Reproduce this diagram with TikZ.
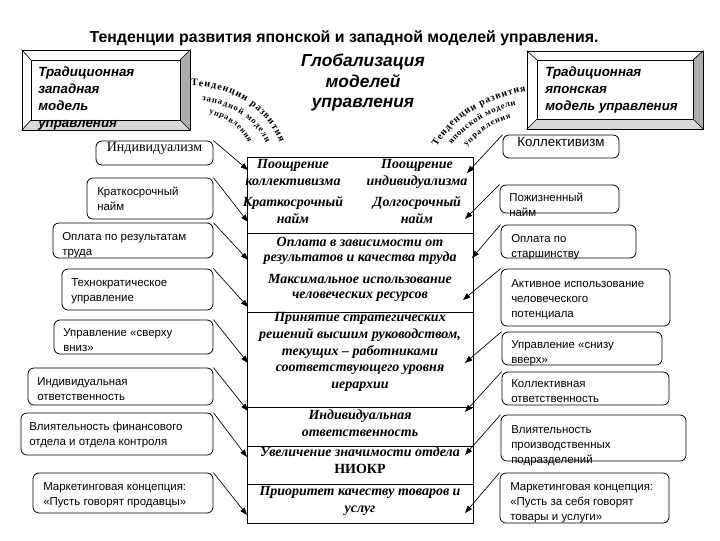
\documentclass[tikz,border=0pt]{standalone}
\usepackage{fontspec}
\setmainfont{Liberation Serif}
\setsansfont{Liberation Sans}
\usetikzlibrary{arrows.meta,decorations.text,fit}
\newcommand\mySans{\sffamily\fontsize{8.6}{11.25}\selectfont}
\newcommand\myCol{\rmfamily\bfseries\itshape\fontsize{10.5}{12.5}\selectfont}
\newcommand\myColS{\rmfamily\bfseries\itshape\fontsize{10.5}{10.8}\selectfont}
\newcommand\myBev{\sffamily\bfseries\itshape\fontsize{10}{12.75}\selectfont}
\newcommand\myGlob{\sffamily\bfseries\itshape\fontsize{13}{15.4}\selectfont}
\newcommand\myTitle{\sffamily\bfseries\fontsize{11.9}{13}\selectfont}
\newcommand\myWAa{\rmfamily\bfseries\fontsize{7.5}{7.5}\selectfont}
\newcommand\myWAb{\rmfamily\bfseries\fontsize{6.5}{6.5}\selectfont}
\newcommand\myWAc{\rmfamily\bfseries\fontsize{6.2}{6.2}\selectfont}
\begin{document}
\begin{tikzpicture}[x=0.75pt,y=-0.75pt,
  rbox/.style={draw, rounded corners=4.5pt, inner sep=0pt, line width=0.6pt, fill=white},
  cbox/.style={draw, inner sep=0pt, line width=0.75pt},
  btxt/.style={anchor=north west, inner sep=0pt, align=left, font=\mySans},
  ctxt/.style={anchor=north, inner sep=0pt, align=center, font=\myCol},
  bevtxt/.style={anchor=north west, inner sep=0pt, align=left, font=\myBev},
  arr/.style={-{Triangle[length=5.5pt,width=4pt]}, line width=0.5pt},
  wa/.style={decorate, decoration={text along path, text align=fit to path, text={#1}}}
]
\useasboundingbox (0,0) rectangle (720,540);
\fill[white] (0,0) rectangle (720,540);

% title
\node[font=\myTitle, inner sep=0pt] (title) at (344,38) {Тенденции развития японской и западной моделей управления.};

% left bevel box
\fill[gray!65] (190,50) -- (180,60) -- (180,120) -- (190,130) -- cycle;
\fill[gray!30] (22,130) -- (31,120) -- (180,120) -- (190,130) -- cycle;
\node[draw, line width=0.6pt, inner sep=0pt, fit={(22,50) (190,130)}] (wb) {};
\draw[line width=0.5pt] (31,60) rectangle (180,120);
\draw[line width=0.5pt] (wb.north west) -- (31,60) (wb.north east) -- (180,60)
  (wb.south west) -- (31,120) (wb.south east) -- (180,120);
\node[bevtxt] (wbt) at (38,64.6) {\strut Традиционная\\западная\\модель\\управления};

% right bevel box
\fill[gray!65] (703,51) -- (693,60) -- (693,119) -- (703,129) -- cycle;
\fill[gray!30] (527,129) -- (537,119) -- (693,119) -- (703,129) -- cycle;
\node[draw, line width=0.6pt, inner sep=0pt, fit={(527,51) (703,129)}] (jb) {};
\draw[line width=0.5pt] (537,60) rectangle (693,119);
\draw[line width=0.5pt] (jb.north west) -- (537,60) (jb.north east) -- (693,60)
  (jb.south west) -- (537,119) (jb.south east) -- (693,119);
\node[bevtxt] (jbt) at (545,64.6) {\strut Традиционная\\японская\\модель управления};

% globalisation
\node[anchor=north, inner sep=0pt, align=center, font=\myGlob] (glob) at (363,52) {\strut Глобализация\\моделей\\управления};

% word-art arcs
\path[wa={|\myWAa|Тенденции развития}] (191,86) .. controls (232,86) and (265,108) .. (280,142);
\path[wa={|\myWAb|западной модели}] (202,101) .. controls (230,104) and (255,119) .. (266,143);
\path[wa={|\myWAc|управления}] (209,114) .. controls (228,118) and (242,129) .. (248,143);
\path[wa={|\myWAa|Тенденции развития}] (437,147) .. controls (452,118) and (488,98) .. (526,91);
\path[wa={|\myWAb|японской модели}] (452,145) .. controls (466,126) and (490,111) .. (516,105);
\path[wa={|\myWAc|управления}] (467,147) .. controls (478,133) and (494,123) .. (511,118);

% central column
\node[cbox, fit={(247,157) (473,233)}] (c1) {};
\node[cbox, fit={(247,233) (473,312)}] (c2) {};
\node[cbox, fit={(247,312) (473,407)}] (c3) {};
\node[cbox, fit={(247,407) (473,446)}] (c4) {};
\node[cbox, fit={(247,446) (473,484)}] (c5) {};
\node[cbox, fit={(247,484) (473,523)}] (c6) {};

\node[ctxt] (c1a) at (293,156.8) {\strut Поощрение\\коллективизма};
\node[ctxt] (c1b) at (417,156.8) {\strut Поощрение\\индивидуализма};
\node[ctxt] (c1c) at (293,194.8) {\strut Краткосрочный\\найм};
\node[ctxt] (c1d) at (417,194.8) {\strut Долгосрочный\\найм};
\node[ctxt, font=\myColS] (c2a) at (360,236.4) {\strut Оплата в зависимости от\\результатов и качества труда};
\node[ctxt, font=\myColS] (c2b) at (360,273.4) {\strut Максимальное использование\\человеческих ресурсов};
\node[ctxt] (c3t) at (360,309.8) {\strut Принятие стратегических\\решений высшим руководством,\\текущих – работниками\\соответствующего уровня\\иерархии};
\node[ctxt] (c4t) at (360,407.8) {\strut Индивидуальная\\ответственность};
\node[ctxt] (c5t) at (360,444.8) {\strut Увеличение значимости отдела\\\upshape НИОКР};
\node[ctxt] (c6t) at (360,483.8) {\strut Приоритет качеству товаров и\\услуг};

% left boxes
\node[rbox, fit={(96,141) (213,165)}, font=\rmfamily\fontsize{10.5}{12}\selectfont] (l1) {Индивидуализм};
\node[rbox, fit={(87,178) (213,219)}] (l2) {};
\node[rbox, fit={(53,223) (213,258)}] (l3) {};
\node[rbox, fit={(62,269) (213,310)}] (l4) {};
\node[rbox, fit={(54,320) (213,354)}] (l5) {};
\node[rbox, fit={(28,368) (213,405)}] (l6) {};
\node[rbox, fit={(21,413) (213,455)}] (l7) {};
\node[rbox, fit={(33,473) (213,513)}] (l8) {};
\node[btxt] (l2t) at (97,184.8) {\strut Краткосрочный\\найм};
\node[btxt] (l3t) at (62,229.8) {\strut Оплата по результатам\\труда};
\node[btxt] (l4t) at (71,275.8) {\strut Технократическое\\управление};
\node[btxt] (l5t) at (63,325.8) {\strut Управление «сверху\\вниз»};
\node[btxt] (l6t) at (37,374.8) {\strut Индивидуальная\\ответственность};
\node[btxt] (l7t) at (29,419.8) {\strut Влиятельность финансового\\отдела и отдела контроля};
\node[btxt] (l8t) at (43,479.8) {\strut Маркетинговая концепция:\\«Пусть говорят продавцы»};

% right boxes
\node[rbox, fit={(503,135) (619,158)}, font=\sffamily\fontsize{10}{12}\selectfont] (r1) {Коллективизм};
\node[rbox, fit={(500,185) (619,213)}] (r2) {};
\node[rbox, fit={(501,225) (636,258)}] (r3) {};
\node[rbox, fit={(501,269) (670,326)}] (r4) {};
\node[rbox, fit={(502,332) (662,365)}] (r5) {};
\node[rbox, fit={(502,372) (669,405)}] (r6) {};
\node[rbox, fit={(501,415) (686,461)}] (r7) {};
\node[rbox, fit={(500,473) (669,523)}] (r8) {};
\node[btxt] (r2t) at (509,190.8) {\strut Пожизненный\\найм};
\node[btxt] (r3t) at (511,231.8) {\strut Оплата по\\старшинству};
\node[btxt] (r4t) at (511,276.8) {\strut Активное использование\\человеческого\\потенциала};
\node[btxt] (r5t) at (511,337.8) {\strut Управление «снизу\\вверх»};
\node[btxt] (r6t) at (511,376.8) {\strut Коллективная\\ответственность};
\node[btxt] (r7t) at (511,422.8) {\strut Влиятельность\\производственных\\подразделений};
\node[btxt] (r8t) at (510,479.8) {\strut Маркетинговая концепция:\\«Пусть за себя говорят\\товары и услуги»};

% arrow ends
\coordinate (la1) at (248,170);
\coordinate (la2) at (248,222);
\coordinate (la3) at (248,260);
\coordinate (la4) at (248,307);
\coordinate (la5) at (248,363);
\coordinate (la6) at (248,411);
\coordinate (la7) at (247,457);
\coordinate (la8) at (247,515);
\coordinate (ra1) at (467,173);
\coordinate (ra2) at (465,219);
\coordinate (ra3) at (472,258);
\coordinate (ra4) at (463,300);
\coordinate (ra5) at (465,363);
\coordinate (ra6) at (465,412);
\coordinate (ra7) at (465,455);
\coordinate (ra8) at (465,513);

\foreach \i in {1,...,8} {
  \draw[arr] (l\i.north east) -- (la\i);
  \draw[arr] (r\i.north west) -- (ra\i);
}
\end{tikzpicture}
\end{document}
